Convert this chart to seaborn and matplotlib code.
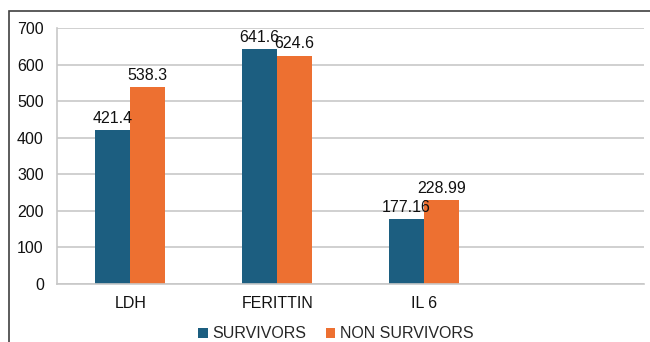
import pandas as pd
import matplotlib.pyplot as plt
import seaborn as sns
from matplotlib.patches import Patch, Rectangle

# --- data ---
markers = ["LDH", "FERITTIN", "IL 6"]
survivors = [421.4, 641.6, 177.16]
non_survivors = [538.3, 624.6, 228.99]
survivors_txt = ["421.4", "641.6", "177.16"]
non_survivors_txt = ["538.3", "624.6", "228.99"]
groups = ["SURVIVORS", "NON SURVIVORS"]
colors = ["#1c5e80", "#ed7031"]

OUTPUT_IMG = "out.png"
FS = 11.5


def main():
    df = pd.DataFrame({
        "Marker": markers * 2,
        "Value": survivors + non_survivors,
        "Group": [groups[0]] * len(markers) + [groups[1]] * len(markers),
    })

    sns.set_style("white")
    plt.rcParams["font.family"] = ["Liberation Sans", "DejaVu Sans"]

    fig = plt.figure(figsize=(6.5, 3.42), dpi=100)
    ax = fig.add_axes([0.0877, 0.1696, 0.9031, 0.7484])

    sns.barplot(data=df, x="Marker", y="Value", hue="Group", order=markers,
                hue_order=groups, palette=colors, width=0.476, gap=0,
                saturation=1, linewidth=0, ax=ax, legend=False, errorbar=None)

    # 4th (empty) slot like the original Excel chart
    ax.set_xlim(-0.5, 3.5)
    ax.set_ylim(0, 700)
    ax.set_yticks(range(0, 701, 100))
    ax.yaxis.grid(True, color="#c8c8c8", linewidth=1.2)
    ax.set_axisbelow(True)
    ax.set_xlabel("")
    ax.set_ylabel("")
    ax.tick_params(axis="both", length=0, labelsize=FS, colors="#111111")
    ax.tick_params(axis="x", pad=9)
    ax.tick_params(axis="y", pad=9.5)

    for side in ["top", "right"]:
        ax.spines[side].set_visible(False)
    for side in ["left", "bottom"]:
        ax.spines[side].set_color("#c8c8c8")
        ax.spines[side].set_linewidth(1.2)

    # value labels
    for cont, txt in zip(ax.containers, [survivors_txt, non_survivors_txt]):
        ax.bar_label(cont, labels=txt, padding=3, fontsize=FS, color="#111111")

    # legend
    handles = [Patch(facecolor=c, edgecolor="none") for c in colors]
    fig.legend(handles, groups, loc="center", bbox_to_anchor=(0.517, 0.024),
               ncol=2, frameon=False, fontsize=FS, handlelength=0.6,
               handleheight=0.6, handletextpad=0.3, columnspacing=1.2)

    # outer frame (cropped on right/bottom)
    fig.patches.append(Rectangle((9 / 650, -0.2), 1.2, 1.2 - 11 / 342,
                                 transform=fig.transFigure, fill=False,
                                 edgecolor="#404040", linewidth=1.2))

    fig.savefig(OUTPUT_IMG, dpi=100)


if __name__ == "__main__":
    main()
